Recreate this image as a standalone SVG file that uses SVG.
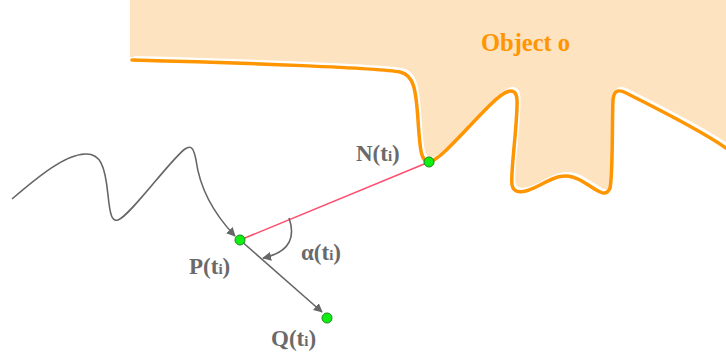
<svg xmlns="http://www.w3.org/2000/svg" width="726" height="360" viewBox="0 0 726 360">
<style>
.lbl{font-family:"Liberation Serif","Times New Roman",serif;font-weight:bold;fill:#6a6a6a;font-size:23px}
.sub{font-size:15px}
.dot{fill:#11ee11;stroke:#1a8a1a;stroke-width:1}
.gline{fill:none;stroke:#666;stroke-width:1.6}
</style>
<defs>
<marker id="ah" viewBox="0 0 10 10" refX="9" refY="5" markerWidth="9" markerHeight="9" markerUnits="userSpaceOnUse" orient="auto">
<path d="M0,0 L10,5 L0,10 Z" fill="#666"/>
</marker>
<path id="edge" d="M132,60 C250,63 380,68 400,72 C414,75 416,90 418,120 C420,150 421,162 429,162 C440,160 460,135 490,105 C505,90 516,85 517,100 C518,120 510,175 512,185 C514,195 525,193 540,185 C555,177 565,172 580,180 C595,188 605,200 610,188 C613,175 612,120 613,100 C614,90 618,88 630,95 C660,110 700,130 726,148"/>
</defs>
<g id="object">
<path d="M130,0 H726 V146 C700,128 660,108 632,93 C620,87 615,88 615,98 C614,120 615,175 612,186 C607,198 597,186 582,178 C567,170 557,175 542,183 C527,191 516,193 514,183 C512,173 520,120 519,98 C518,84 507,88 492,103 C462,133 442,158 431,160 C423,160 422,150 420,118 C418,88 416,73 402,70 C382,66 250,61 130,57 Z" fill="#fde3bf"/>
<use href="#edge" transform="translate(2,-2.5)" fill="none" stroke="#fff" stroke-width="3"/>
<use href="#edge" fill="none" stroke="#ff9500" stroke-width="3.5" stroke-linecap="round"/>
<text x="481" y="51" font-family="Liberation Serif,serif" font-weight="bold" font-size="24.5" fill="#ff9500">Object o</text>
</g>
<g id="connectors">
<path class="gline" d="M12,199 C40,175 65,155 85,154 C100,153 105,165 108,195 C110,215 112,222 118,220 C130,216 170,160 185,149 C192,144 194,150 196,160 C200,190 215,215 235,236" marker-end="url(#ah)"/>
<line x1="240" y1="240" x2="429" y2="162" stroke="#ff4d6d" stroke-width="1.5"/>
<line class="gline" x1="240" y1="240" x2="322" y2="312" marker-end="url(#ah)"/>
<path class="gline" d="M289,218 C295,235 292,252 263,258" marker-end="url(#ah)"/>
</g>
<g id="N"><circle class="dot" cx="429" cy="162" r="5"/><text class="lbl" x="356" y="161">N(t<tspan class="sub">i</tspan>)</text></g>
<g id="P"><circle class="dot" cx="240" cy="240" r="5"/><text class="lbl" x="189" y="274">P(t<tspan class="sub">i</tspan>)</text></g>
<g id="Q"><circle class="dot" cx="327" cy="318" r="5"/><text class="lbl" x="271" y="346">Q(t<tspan class="sub">i</tspan>)</text></g>
<g id="alpha"><text class="lbl" x="301" y="260">α(t<tspan class="sub">i</tspan>)</text></g>
</svg>
